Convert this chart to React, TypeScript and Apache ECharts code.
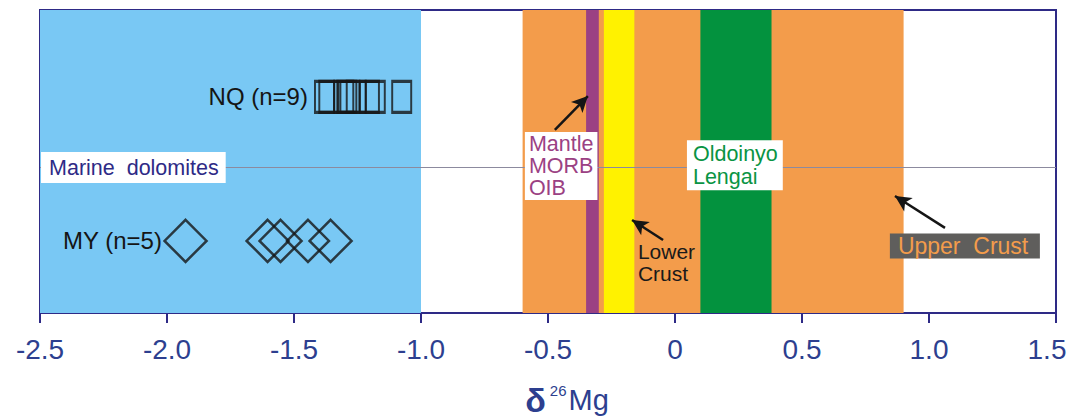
import React, { useEffect, useRef } from "react";
import * as echarts from "echarts";

const xTicks = [-2.5, -2.0, -1.5, -1.0, -0.5, 0, 0.5, 1.0, 1.5];
const nqValues = [-1.38, -1.363, -1.304, -1.292, -1.28, -1.255, -1.203, -1.18, -1.076];
const nqY = 0.713;
const myValues = [-1.927, -1.604, -1.553, -1.445, -1.356];
const myY = 0.238;
const dolomiteLineY = 0.48;
const bandNames = ["Marine dolomites", "Upper Crust", "Mantle", "Lower Crust", "Oldoinyo Lengai"];
const bandFrom = [-2.5, -0.6, -0.35, -0.28, 0.1];
const bandTo = [-1.0, 0.9, -0.3, -0.16, 0.38];
const bandColors = ["#79c8f4", "#f39c4b", "#9b4183", "#fff200", "#03923e"];

const NAVY = "#2e2a86";
const LABEL_BLUE = "#2d3f8f";
const FONT = "'Liberation Sans', Arial, sans-serif";

export default function App() {
  const ref = useRef<HTMLDivElement>(null);
  useEffect(() => {
    if (!ref.current) return;
    const chart = echarts.init(ref.current, undefined, { renderer: "svg" });
    const boxLabel = (
      coord: number[],
      text: string,
      color: string,
      bg: string,
      extra: any = {}
    ) => ({
      coord,
      symbol: "rect",
      symbolSize: 0,
      label: {
        show: true,
        position: "inside",
        align: "left",
        verticalAlign: "middle",
        formatter: text,
        color,
        backgroundColor: bg,
        fontFamily: FONT,
        fontSize: 21,
        ...extra,
      },
    });
    chart.setOption({
      animation: false,
      backgroundColor: "#ffffff",
      grid: {
        left: 40,
        right: 15,
        top: 10,
        height: 303,
        outerBoundsMode: "none",
        containLabel: false,
        show: true,
        borderColor: NAVY,
        borderWidth: 2,
        backgroundColor: "#ffffff",
      },
      xAxis: {
        type: "value",
        min: -2.5,
        max: 1.5,
        interval: 0.5,
        splitLine: { show: false },
        axisLine: { show: true, lineStyle: { color: NAVY, width: 2 } },
        axisTick: { show: true, length: 10, lineStyle: { color: NAVY, width: 2 } },
        axisLabel: {
          color: LABEL_BLUE,
          fontSize: 28,
          fontFamily: FONT,
          margin: 22,
          formatter: (v: number) => {
            const t = xTicks.find((x) => Math.abs(x - v) < 1e-9);
            if (t === undefined) return "";
            if (t === xTicks[xTicks.length - 1]) return "{r|" + t.toFixed(1) + "}";
            return t === 0 ? "0" : t.toFixed(1);
          },
          rich: {
            r: { fontSize: 28, color: LABEL_BLUE, fontFamily: FONT, padding: [0, 18, 0, 0] },
          },
        },
        name: "{d|δ}{s|26}{m|Mg}",
        nameLocation: "middle",
        nameGap: 70,
        nameTextStyle: {
          padding: [0, 0, 0, 38],
          rich: {
            d: { fontSize: 34, lineHeight: 32, color: LABEL_BLUE, fontFamily: FONT, fontWeight: "bold" },
            s: { fontSize: 15, color: LABEL_BLUE, fontFamily: FONT, padding: [0, 2, 18, 4] },
            m: { fontSize: 29, lineHeight: 32, color: LABEL_BLUE, fontFamily: FONT },
          },
        },
      },
      yAxis: { type: "value", min: 0, max: 1, show: false },
      series: [
        {
          type: "line",
          data: [],
          z: 1,
          markArea: {
            silent: true,
            data: bandFrom.map((f, i) => [
              { name: bandNames[i], xAxis: f, yAxis: 0, itemStyle: { color: bandColors[i], opacity: 1 } },
              { xAxis: bandTo[i], yAxis: 1 },
            ]),
            label: { show: false },
          },
          markLine: {
            silent: true,
            symbol: "none",
            label: { show: false },
            lineStyle: { color: "#8c8a9e", width: 1, type: "solid" },
            data: [{ yAxis: dolomiteLineY }],
          },
        },
        {
          type: "scatter",
          name: "NQ",
          z: 5,
          symbol: "rect",
          symbolSize: [19, 31],
          itemStyle: { color: "rgba(0,0,0,0)", borderColor: "#151515", borderWidth: 2.5 },
          data: nqValues.map((v) => [v, nqY]),
        },
        {
          type: "scatter",
          name: "MY",
          z: 5,
          symbol: "diamond",
          symbolSize: [42, 42],
          itemStyle: { color: "rgba(0,0,0,0)", borderColor: "#151515", borderWidth: 2.5 },
          data: myValues.map((v) => [v, myY]),
        },
        {
          type: "line",
          data: [],
          z: 8,
          markLine: {
            silent: true,
            symbol: ["none", "arrow"],
            symbolSize: [12, 16],
            label: { show: false },
            lineStyle: { color: "#151515", width: 2.5, type: "solid" },
            data: [
              [{ coord: [-0.473, 0.604] }, { coord: [-0.343, 0.716] }],
              [{ coord: [-0.047, 0.241] }, { coord: [-0.169, 0.307] }],
              [{ coord: [1.063, 0.281] }, { coord: [0.866, 0.386] }],
            ],
          },
          markPoint: {
            silent: true,
            data: [
              boxLabel([-2.496, dolomiteLineY], "Marine  dolomites", NAVY, "#ffffff", {
                fontSize: 21.5,
                padding: [5, 7, 4, 8],
              }),
              boxLabel([-0.591, 0.485], "Mantle\nMORB\nOIB", "#9b4183", "#ffffff", {
                fontSize: 21.5,
                lineHeight: 22,
                padding: [1, 4, 1, 4],
              }),
              boxLabel([0.047, 0.488], "Oldoinyo\nLengai", "#0a9444", "#ffffff", {
                fontSize: 21.5,
                lineHeight: 23,
                padding: [2, 5, 2, 6],
              }),
              boxLabel([-0.146, 0.168], "Lower\nCrust", "#1a1a1a", "transparent", {
                lineHeight: 22,
              }),
              boxLabel([0.846, 0.221], "Upper  Crust", "#f39c4b", "#5f5e5c", {
                fontSize: 23,
                width: 134,
                padding: [2, 8, 0, 8],
              }),
              boxLabel([-1.445, nqY], "NQ (n=9)", "#151515", "transparent", {
                align: "right",
                fontSize: 24,
              }),
              boxLabel([-2.02, myY], "MY (n=5)", "#151515", "transparent", {
                align: "right",
                fontSize: 24,
              }),
            ],
          },
        },
      ],
    });
    return () => chart.dispose();
  }, []);
  return (
    <div
      ref={ref}
      style={{ position: "absolute", left: 0, top: 0, width: 1071, height: 420 }}
    />
  );
}
